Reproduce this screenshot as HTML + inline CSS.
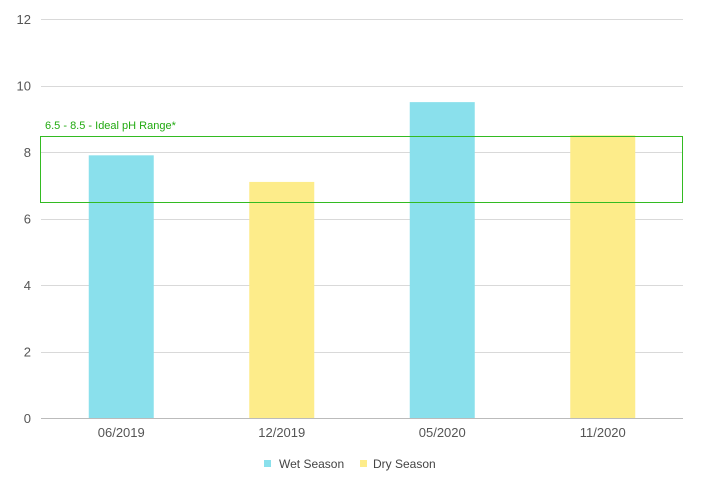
<!DOCTYPE html>
<html><head><meta charset="utf-8"><style>
body{margin:0;background:#fff;font-family:"Liberation Sans",sans-serif;}
svg text{font-family:"Liberation Sans",sans-serif;}
</style></head><body>
<svg id="chart" width="702" height="498">
<g id="grid"></g><g id="bars"></g><g id="labels"></g>
<rect x="40.5" y="136.5" width="642" height="66" fill="none" stroke="#33bb22" stroke-width="1"/>
<text x="45" y="129" font-size="11" fill="#22aa11">6.5 - 8.5 - Ideal pH Range*</text>
<g>
<rect x="264" y="460" width="7" height="7" fill="#8ae0ec"/>
<text x="279" y="468" font-size="12" fill="#444">Wet Season</text>
<rect x="360" y="460" width="7" height="7" fill="#fdec8a"/>
<text x="373" y="468" font-size="12" fill="#444">Dry Season</text>
</g>
</svg>
<script>
const categories=["06/2019","12/2019","05/2020","11/2020"];
const values=[7.9,7.1,9.5,8.5];
const seasons=["wet","dry","wet","dry"];
const yTicks=[0,2,4,6,8,10,12];
const x0=41,x1=683,yBase=418,yTop=19,yMax=12;
const ns="http://www.w3.org/2000/svg";
function y(v){return yBase-(v/yMax)*(yBase-yTop);}
function xc(i){const w=(x1-x0)/categories.length;return x0+w*(i+0.5);}
const grid=document.getElementById('grid'),bars=document.getElementById('bars'),labels=document.getElementById('labels');
yTicks.forEach(t=>{
 const l=document.createElementNS(ns,'line');
 
 
 l.setAttribute('x1',x0);l.setAttribute('x2',x1);
 l.setAttribute('y1',Math.round(y(t))+0.5);l.setAttribute('y2',Math.round(y(t))+0.5);
 l.setAttribute('stroke',t===0?'#bbb':'#d9d9d9');
 grid.appendChild(l);
 const tx=document.createElementNS(ns,'text');
 
 
 tx.setAttribute('x',31);tx.setAttribute('y',y(t)+5);
 tx.setAttribute('text-anchor','end');tx.setAttribute('font-size','13');tx.setAttribute('fill','#555');
 tx.textContent=t;labels.appendChild(tx);
});
categories.forEach((c,i)=>{
 const r=document.createElementNS(ns,'rect');
 
 
 const bw=65;
 r.setAttribute('x',xc(i)-bw/2);r.setAttribute('width',bw);
 r.setAttribute('y',y(values[i]));r.setAttribute('height',yBase-y(values[i]));
 r.setAttribute('fill',seasons[i]==='wet'?'#8ae0ec':'#fdec8a');
 bars.appendChild(r);
 const tx=document.createElementNS(ns,'text');
 
 
 tx.setAttribute('x',xc(i));tx.setAttribute('y',437);
 tx.setAttribute('text-anchor','middle');tx.setAttribute('font-size','13');tx.setAttribute('fill','#555');
 tx.textContent=c;labels.appendChild(tx);
});
</script>
</body></html>
